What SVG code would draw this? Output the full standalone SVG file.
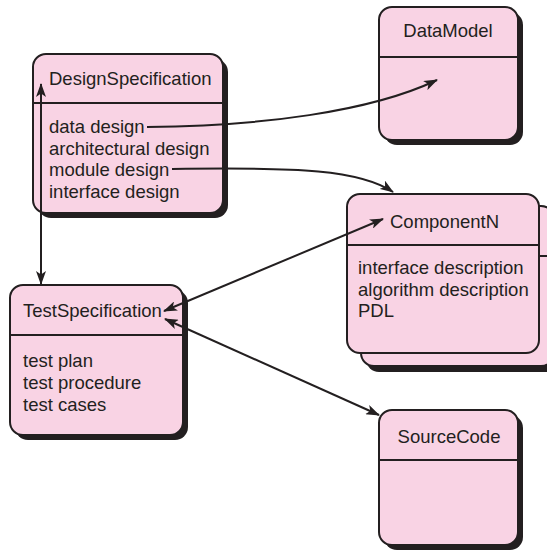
<svg xmlns="http://www.w3.org/2000/svg" width="547" height="551" viewBox="0 0 547 551">
<style>
.box{fill:#f9d3e4;stroke:#231f20;stroke-width:2}
.sh{fill:#231f20}
.div{stroke:#231f20;stroke-width:2}
.t{font-family:"Liberation Sans",Arial,sans-serif;font-size:18.5px;fill:#231f20}
.c{fill:none;stroke:#231f20;stroke-width:2}
</style>
<defs>
<marker id="ah" viewBox="0 0 14 10" refX="13" refY="5" markerWidth="14" markerHeight="10" markerUnits="userSpaceOnUse" orient="auto-start-reverse">
<path d="M0,0 L14,5 L0,10 L3.5,5 z" fill="#231f20"/>
</marker>
</defs>
<rect width="547" height="551" fill="#fff"/>
<g id="DataModel">
<rect class="sh" x="384" y="12" width="139" height="133" rx="13"/>
<rect class="box" x="379" y="7" width="139" height="133" rx="13"/>
<line class="div" x1="379" y1="57" x2="518" y2="57"/>
<text class="t" x="448" y="37" text-anchor="middle">DataModel</text>
</g>
<g id="DesignSpecification">
<rect class="sh" x="38" y="59" width="190" height="159" rx="13"/>
<rect class="box" x="33" y="54" width="190" height="159" rx="13"/>
<line class="div" x1="33" y1="103" x2="223" y2="103"/>
<text class="t" x="49" y="85">DesignSpecification</text>
<text class="t" x="49" y="133">data design</text>
<text class="t" x="49" y="154.5">architectural design</text>
<text class="t" x="49" y="176">module design</text>
<text class="t" x="49" y="197.5">interface design</text>
</g>
<g id="ComponentN">
<rect class="sh" x="366" y="211" width="193" height="161" rx="13"/>
<rect class="box" x="361" y="206" width="193" height="160" rx="13"/>
<line class="div" x1="361" y1="256" x2="547" y2="256"/>
<rect class="box" x="347" y="194" width="192" height="159" rx="13"/>
<line class="div" x1="347" y1="245" x2="539" y2="245"/>
<text class="t" x="390" y="228">ComponentN</text>
<text class="t" x="358" y="274">interface description</text>
<text class="t" x="358" y="295.5">algorithm description</text>
<text class="t" x="358" y="317">PDL</text>
</g>
<g id="TestSpecification">
<rect class="sh" x="15" y="290" width="173" height="150" rx="13"/>
<rect class="box" x="10" y="285" width="173" height="150" rx="13"/>
<line class="div" x1="10" y1="335" x2="183" y2="335"/>
<text class="t" x="23" y="317">TestSpecification</text>
<text class="t" x="23" y="367">test plan</text>
<text class="t" x="23" y="389">test procedure</text>
<text class="t" x="23" y="411">test cases</text>
</g>
<g id="SourceCode">
<rect class="sh" x="384" y="415" width="139" height="135" rx="13"/>
<rect class="box" x="379" y="410" width="139" height="135" rx="13"/>
<line class="div" x1="379" y1="460" x2="518" y2="460"/>
<text class="t" x="449" y="443" text-anchor="middle">SourceCode</text>
</g>
<g id="connectors">
<path class="c" d="M147,127 C260,126 370,112 437,80" marker-end="url(#ah)"/>
<path class="c" d="M172,169 C300,167 360,170 393,192" marker-end="url(#ah)"/>
<line class="c" x1="41" y1="84" x2="41" y2="284" marker-start="url(#ah)" marker-end="url(#ah)"/>
<line class="c" x1="164" y1="311" x2="383" y2="219" marker-start="url(#ah)" marker-end="url(#ah)"/>
<line class="c" x1="165" y1="319" x2="379" y2="415" marker-start="url(#ah)" marker-end="url(#ah)"/>
</g>
</svg>
